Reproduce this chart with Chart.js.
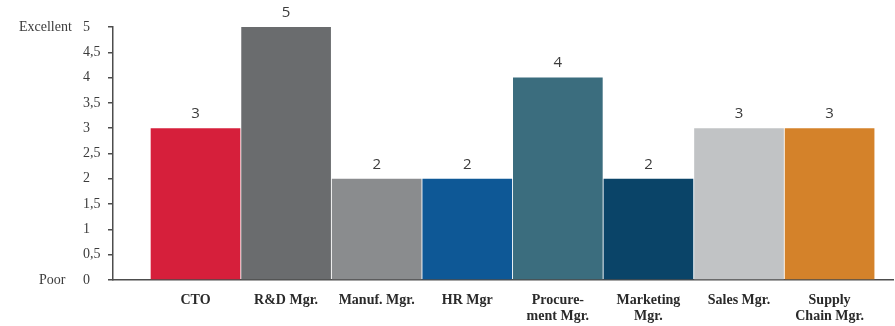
<!DOCTYPE html>
<html>
<head>
<meta charset="utf-8">
<script src="https://cdn.jsdelivr.net/npm/chart.js@4"></script>
<style>
  html, body { margin: 0; padding: 0; background: #ffffff; }
  #wrap { width: 895px; height: 326px; }
</style>
</head>
<body>
<div id="wrap"><canvas id="c" width="895" height="326"></canvas></div>
<script>
// Role names along the bottom (multi-line where they wrap)
const roles = [
  'CTO',
  'R&D Mgr.',
  'Manuf. Mgr.',
  'HR Mgr',
  ['Procure-', 'ment Mgr.'],
  ['Marketing', 'Mgr.'],
  'Sales Mgr.',
  ['Supply', 'Chain Mgr.']
];

// Rating per role (0 = Poor, 5 = Excellent)
const ratings = [3, 5, 2, 2, 4, 2, 3, 3];

// Bar fill per role
const barColors = [
  '#d61f3b', '#6a6c6e', '#8a8c8e', '#0e5896',
  '#3b6d7e', '#0a4468', '#c1c3c5', '#d4822a'
];

// Rating scale ticks and the words at its ends
const scaleTicks = [0, 0.5, 1, 1.5, 2, 2.5, 3, 3.5, 4, 4.5, 5];
const scaleEnds = { top: 'Excellent', bottom: 'Poor' };

const axisColor = '#4d4d4d';
const textColor = '#3c3c3c';
const serif = '"Liberation Serif", "DejaVu Serif", serif';

// Value above each bar
const valueLabels = {
  id: 'valueLabels',
  afterDatasetsDraw(chart) {
    const ctx = chart.ctx;
    const meta = chart.getDatasetMeta(0);
    ctx.save();
    ctx.font = '15px "Open Sans", sans-serif';
    ctx.fillStyle = textColor;
    ctx.textAlign = 'center';
    ctx.textBaseline = 'middle';
    meta.data.forEach((bar, i) => {
      ctx.fillText(String(ratings[i]), bar.x, bar.y - 14.5);
    });
    ctx.restore();
  }
};

// "Excellent" / "Poor" beside the ends of the rating scale
const scaleEndWords = {
  id: 'scaleEndWords',
  afterDraw(chart) {
    const ctx = chart.ctx;
    const y = chart.scales.y;
    ctx.save();
    ctx.font = '14px ' + serif;
    ctx.fillStyle = textColor;
    ctx.textAlign = 'left';
    ctx.textBaseline = 'middle';
    ctx.fillText(scaleEnds.top, y.left - 64, y.getPixelForValue(scaleTicks[scaleTicks.length - 1]));
    ctx.fillText(scaleEnds.bottom, y.left - 44, y.getPixelForValue(scaleTicks[0]));
    ctx.restore();
  }
};

new Chart(document.getElementById('c'), {
  type: 'bar',
  data: {
    datasets: [{
      data: ratings.map((v, i) => ({ x: i, y: v })),
      backgroundColor: barColors,
      borderWidth: 0,
      barPercentage: 1,
      categoryPercentage: 0.99
    }]
  },
  options: {
    responsive: false,
    animation: false,
    events: [],
    layout: { padding: { top: 27, left: 83, right: 2, bottom: 0 } },
    plugins: {
      legend: { display: false },
      tooltip: { enabled: false }
    },
    scales: {
      x: {
        type: 'linear',
        offset: false,
        min: -0.911,
        max: 7.70,
        afterBuildTicks(scale) {
          scale.ticks = roles.map((_, i) => ({ value: i }));
        },
        afterFit(scale) { scale.height = 46; },
        grid: { display: true, drawOnChartArea: false, drawTicks: false },
        border: { display: true, color: axisColor, width: 1.5 },
        ticks: {
          autoSkip: false,
          maxRotation: 0,
          minRotation: 0,
          padding: 11.5,
          color: '#2a2a2a',
          font: { family: serif, size: 14, weight: 'bold', lineHeight: 1.2 },
          callback: (value) => roles[value] ?? ''
        }
      },
      y: {
        min: 0,
        max: 5,
        afterBuildTicks(scale) {
          scale.ticks = scaleTicks.map(v => ({ value: v }));
        },
        afterFit(scale) { scale.width = 30; },
        grid: {
          drawOnChartArea: false,
          drawTicks: true,
          tickLength: 5,
          color: axisColor,
          lineWidth: 1.5
        },
        border: { display: true, color: axisColor, width: 1.5 },
        ticks: {
          crossAlign: 'far',
          padding: 4,
          color: textColor,
          font: { family: serif, size: 14 },
          callback: (value) => String(value).replace('.', ',')
        }
      }
    }
  },
  plugins: [valueLabels, scaleEndWords]
});
</script>
</body>
</html>
